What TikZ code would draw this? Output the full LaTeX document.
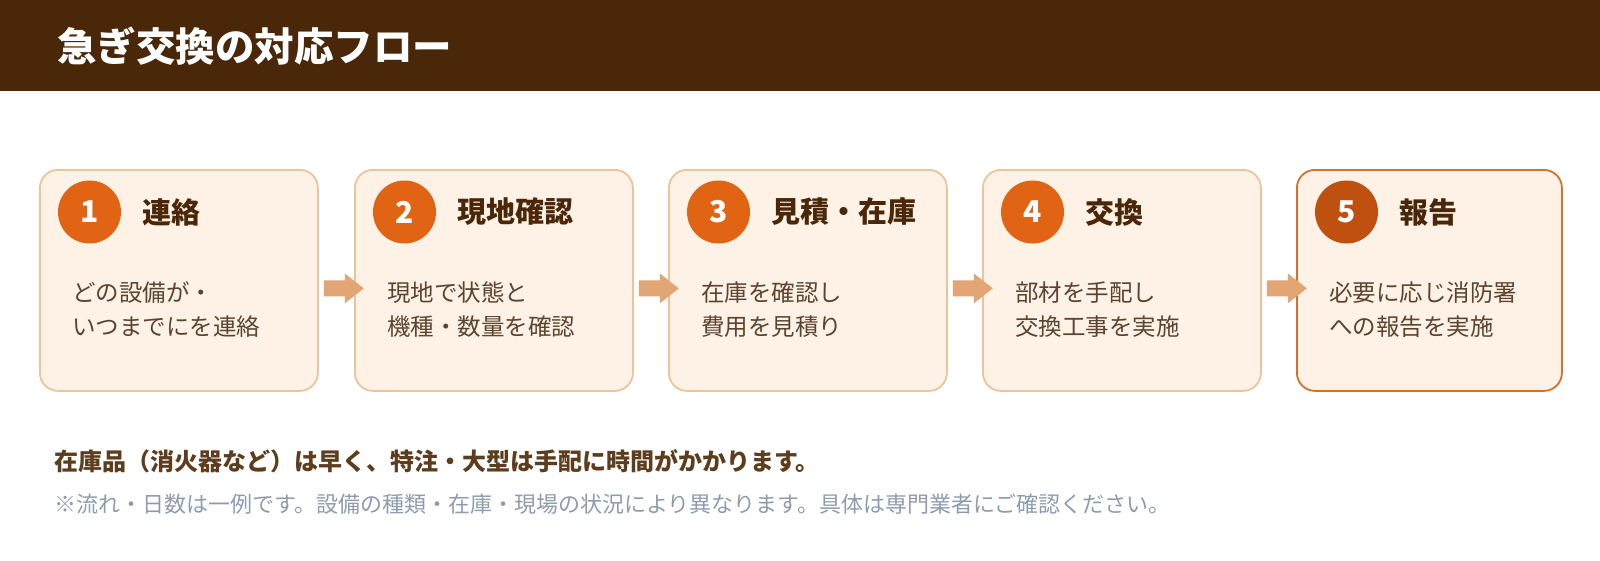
\documentclass[tikz,border=0pt]{standalone}
\usepackage{fontspec}
\setmainfont{Noto Sans CJK JP}
\usetikzlibrary{calc}
\definecolor{hdrbrown}{HTML}{4A2709}
\definecolor{boxfill}{HTML}{FEF2E6}
\definecolor{boxline}{HTML}{EDC49A}
\definecolor{lastline}{HTML}{CF7430}
\definecolor{circorange}{HTML}{E06414}
\definecolor{circdark}{HTML}{C0500F}
\definecolor{arrowcol}{HTML}{E2A574}
\definecolor{titlecol}{HTML}{4A2709}
\definecolor{bodycol}{HTML}{5A4430}
\definecolor{notebold}{HTML}{5C3D1E}
\definecolor{notegray}{HTML}{8E9BAE}
\tikzset{
  stepbox/.style={draw=boxline, line width=1.8pt, fill=boxfill, rounded corners=18pt,
    minimum height=221pt, inner sep=0pt, anchor=north west},
  numcirc/.style={circle, fill=circorange, minimum size=63pt, inner sep=0pt,
    text=white, font=\fontsize{30}{32}\selectfont\bfseries},
  steptitle/.style={anchor=west, inner sep=0pt, text=titlecol, font=\fontsize{29}{32}\selectfont\bfseries},
  stepbody/.style={anchor=west, inner sep=0pt, align=left, text=bodycol, font=\fontsize{23.5}{34}\selectfont},
  flowarrow/.style={fill=arrowcol}
}
\begin{document}
\begin{tikzpicture}[x=1pt,y=-1pt]
\useasboundingbox (0,0) rectangle (1600,560);
\node[fill=hdrbrown, minimum width=1600pt, minimum height=91pt, inner sep=0pt, anchor=north west] (hdr) at (0,0) {};
\node[anchor=west, inner sep=0pt, text=white, font=\fontsize{39.5}{42}\selectfont\bfseries] (htitle) at (57,46) {急ぎ交換の対応フロー};

% boxes
\node[stepbox, minimum width=278pt] (b1) at (39,169) {};
\node[stepbox, minimum width=278pt] (b2) at (354,169) {};
\node[stepbox, minimum width=278pt] (b3) at (668,169) {};
\node[stepbox, minimum width=278pt] (b4) at (982,169) {};
\node[stepbox, minimum width=265pt, draw=lastline] (b5) at (1296,169) {};

% circles, titles, bodies
\foreach \i/\L/\t/\a/\b in {1/39/連絡/どの設備が・/いつまでにを連絡,
                          2/354/現地確認/現地で状態と/機種・数量を確認,
                          3/668/見積・在庫/在庫を確認し/費用を見積り,
                          4/982/交換/部材を手配し/交換工事を実施}{
  \node[numcirc] (c\i) at (\L+50.5,212) {\i};
  \node[steptitle] (t\i) at (\L+103,212) {\t};
  \node[stepbody] (d\i) at (\L+33,310) {\a\\\b};
}
\node[numcirc, fill=circdark] (c5) at (1296+50.5,212) {5};
\node[steptitle] (t5) at (1296+103,212) {報告};
\node[stepbody] (d5) at (1296+33,310) {必要に応じ消防署\\への報告を実施};

% arrows
\foreach \i/\j in {1/2,2/3,3/4,4/5}{
  \coordinate (a\i) at ($(b\i.east)+(0,8)$);
  \fill[flowarrow] ($(a\i)+(5,-8)$) -- ($(a\i)+(26,-8)$) -- ($(a\i)+(26,-15)$) -- ($(a\i)+(45,0)$)
     -- ($(a\i)+(26,15)$) -- ($(a\i)+(26,8)$) -- ($(a\i)+(5,8)$) -- cycle;
}

% notes
\node[anchor=west, inner sep=0pt, text=notebold, font=\fontsize{24}{26}\selectfont\bfseries] (n1) at (54,461)
  {在庫品（消火器など）は早く、特注・大型は手配に時間がかかります。};
\node[anchor=west, inner sep=0pt, text=notegray, font=\fontsize{22}{24}\selectfont] (n2) at (54,504)
  {※流れ・日数は一例です。設備の種類・在庫・現場の状況により異なります。具体は専門業者にご確認ください。};
\end{tikzpicture}
\end{document}
